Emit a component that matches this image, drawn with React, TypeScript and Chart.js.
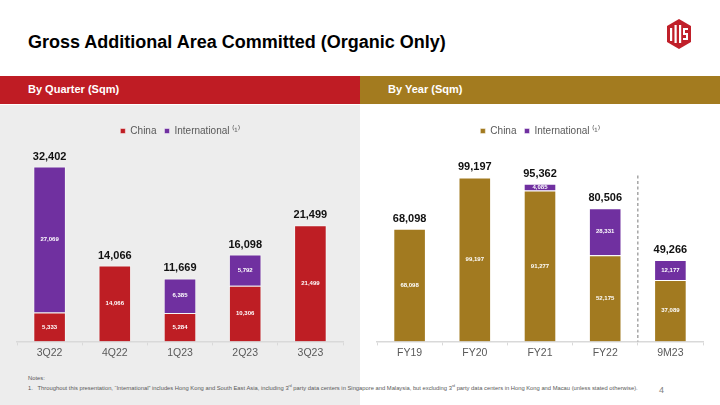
import React, { useEffect, useRef } from "react";
import { Chart, registerables } from "chart.js";

Chart.register(...registerables);

// ---- data ----
const quarterLabels = ["3Q22", "4Q22", "1Q23", "2Q23", "3Q23"];
const quarterChina = [5333, 14066, 5284, 10306, 21499];
const quarterIntl: (number | null)[] = [27069, null, 6385, 5792, null];

const yearLabels = ["FY19", "FY20", "FY21", "FY22", "9M23"];
const yearChina = [68098, 99197, 91277, 52175, 37089];
const yearIntl: (number | null)[] = [null, null, 4085, 28331, 12177];

const legendChina = "China";
const legendIntl = "International \u207D\u00B9\u207E";

const RED = "#BE1E24";
const GOLD = "#A27A20";
const PURPLE = "#7030A0";
const FONT = "'Liberation Sans', Arial, sans-serif";

const fmt = (v: number) => v.toLocaleString("en-US");

const valueLabels = {
  id: "valueLabels",
  afterDatasetsDraw(chart: any) {
    const ctx = chart.ctx;
    const n = chart.data.labels.length;
    ctx.save();
    ctx.textAlign = "center";
    ctx.textBaseline = "middle";
    const tops: number[] = new Array(n).fill(Infinity);
    const xs: number[] = new Array(n).fill(0);
    const totals: number[] = new Array(n).fill(0);
    chart.data.datasets.forEach((ds: any, di: number) => {
      const meta = chart.getDatasetMeta(di);
      meta.data.forEach((bar: any, i: number) => {
        const v = ds.data[i];
        if (v == null || v === 0) return;
        const p = bar.getProps(["x", "y", "base"], true);
        totals[i] += v;
        xs[i] = p.x;
        tops[i] = Math.min(tops[i], p.y);
        ctx.font = `bold 6px ${FONT}`;
        ctx.fillStyle = "#ffffff";
        ctx.fillText(fmt(v), p.x, (p.y + p.base) / 2);
      });
    });
    ctx.font = `bold 11px ${FONT}`;
    ctx.fillStyle = "#111111";
    for (let i = 0; i < n; i++) {
      if (totals[i] > 0) ctx.fillText(fmt(totals[i]), xs[i], tops[i] - 10);
    }
    ctx.restore();
  },
};

const dashedDivider = {
  id: "dashedDivider",
  afterDatasetsDraw(chart: any, _a: any, opts: any) {
    if (!opts || !opts.enabled) return;
    const xs = chart.scales.x;
    const ys = chart.scales.y;
    const x = (xs.getPixelForValue(3) + xs.getPixelForValue(4)) / 2;
    const maxTotal = Math.max(...yearChina.map((c, i) => c + (yearIntl[i] || 0)));
    const top = ys.getPixelForValue(maxTotal) - 2;
    const ctx = chart.ctx;
    ctx.save();
    ctx.strokeStyle = "#A6A6A6";
    ctx.lineWidth = 1.5;
    ctx.setLineDash([3, 2.5]);
    ctx.beginPath();
    ctx.moveTo(x, top);
    ctx.lineTo(x, ys.getPixelForValue(0));
    ctx.stroke();
    ctx.restore();
  },
};

function makeConfig(
  labels: string[],
  china: number[],
  intl: (number | null)[],
  chinaColor: string,
  yMax: number,
  divider: boolean
): any {
  return {
    type: "bar",
    data: {
      labels,
      datasets: [
        {
          label: legendChina,
          data: china,
          backgroundColor: chinaColor,
          borderColor: "rgba(255,255,255,0.45)",
          borderWidth: 1,
          borderSkipped: "bottom",
        },
        {
          label: legendIntl,
          data: intl,
          backgroundColor: PURPLE,
          borderColor: "rgba(255,255,255,0.45)",
          borderWidth: 1,
          borderSkipped: "bottom",
        },
      ],
    },
    options: {
      responsive: false,
      animation: false,
      layout: { padding: { left: 17, right: 17, top: 14, bottom: 6 } },
      datasets: { bar: { categoryPercentage: 1, barPercentage: 0.5 } },
      plugins: {
        tooltip: { enabled: false },
        dashedDivider: { enabled: divider },
        legend: {
          position: "top",
          labels: {
            boxWidth: 5,
            boxHeight: 5,
            padding: 8,
            color: "#595959",
            font: { family: FONT, size: 10 },
          },
        },
      },
      scales: {
        x: {
          stacked: true,
          grid: {
            display: true,
            drawOnChartArea: false,
            drawTicks: true,
            tickLength: 4,
            color: "#D9D9D9",
            offset: true,
          },
          border: { display: true, color: "#D9D9D9", width: 1.5 },
          ticks: {
            color: "#595959",
            padding: 1,
            font: { family: FONT, size: 10.5 },
          },
        },
        y: {
          stacked: true,
          display: false,
          min: 0,
          max: yMax,
        },
      },
    },
    plugins: [valueLabels, dashedDivider],
  };
}

function BarChart(props: {
  labels: string[];
  china: number[];
  intl: (number | null)[];
  chinaColor: string;
  yMax: number;
  divider: boolean;
}) {
  const ref = useRef<HTMLCanvasElement>(null);
  useEffect(() => {
    if (!ref.current) return;
    const chart = new Chart(
      ref.current,
      makeConfig(props.labels, props.china, props.intl, props.chinaColor, props.yMax, props.divider)
    );
    return () => chart.destroy();
  }, []);
  return <canvas ref={ref} width={360} height={262} style={{ width: 360, height: 262, display: "block" }} />;
}

function Logo() {
  return (
    <svg width="24" height="30" viewBox="0 0 24 30" style={{ position: "absolute", left: 667, top: 19 }}>
      <polygon points="12,0 24,7 24,23 12,30 0,23 0,7" fill="#C0202A" />
      <rect x="3" y="9" width="2.2" height="13" fill="#fff" />
      <rect x="7.5" y="6" width="2.2" height="18" fill="#fff" />
      <rect x="12" y="6" width="2.2" height="18" fill="#fff" />
      <path d="M16 9 h5 v2 h-3 v3 h3 v7 h-5 v-2 h3 v-3 h-3 z" fill="#fff" />
    </svg>
  );
}

export default function App() {
  return (
    <div
      style={{
        position: "absolute",
        left: 0,
        top: 0,
        width: 720,
        height: 405,
        overflow: "hidden",
        background: "#ffffff",
        fontFamily: FONT,
      }}
    >
      <div
        style={{
          position: "absolute",
          left: 28,
          top: 32,
          fontSize: 18,
          fontWeight: "bold",
          color: "#000",
          whiteSpace: "nowrap",
        }}
      >
        Gross Additional Area Committed (Organic Only)
      </div>
      <Logo />
      <div style={{ position: "absolute", left: 0, top: 76, width: 360, height: 28, background: "#BF1C24" }} />
      <div style={{ position: "absolute", left: 360, top: 76, width: 360, height: 28, background: "#A37B1F" }} />
      <div
        style={{
          position: "absolute",
          left: 28,
          top: 83,
          fontSize: 11,
          fontWeight: "bold",
          color: "#fff",
          whiteSpace: "nowrap",
        }}
      >
        By Quarter (Sqm)
      </div>
      <div
        style={{
          position: "absolute",
          left: 388,
          top: 83,
          fontSize: 11,
          fontWeight: "bold",
          color: "#fff",
          whiteSpace: "nowrap",
        }}
      >
        By Year (Sqm)
      </div>
      <div style={{ position: "absolute", left: 0, top: 105, width: 360, height: 300, background: "#EDEDED" }} />
      <div style={{ position: "absolute", left: 0, top: 104 }}>
        <BarChart
          labels={quarterLabels}
          china={quarterChina}
          intl={quarterIntl}
          chinaColor={RED}
          yMax={36200}
          divider={false}
        />
      </div>
      <div style={{ position: "absolute", left: 360, top: 104 }}>
        <BarChart
          labels={yearLabels}
          china={yearChina}
          intl={yearIntl}
          chinaColor={GOLD}
          yMax={118200}
          divider={true}
        />
      </div>
      <div
        style={{
          position: "absolute",
          left: 28,
          top: 374,
          fontSize: 5.8,
          color: "#595959",
          lineHeight: "8px",
          whiteSpace: "nowrap",
        }}
      >
        <div>Notes:</div>
        <div>
          1.&nbsp;&nbsp; Throughout this presentation, “International” includes Hong Kong and South East Asia, including 3
          <sup style={{ fontSize: 3.5 }}>rd</sup> party data centers in Singapore and Malaysia, but excluding 3
          <sup style={{ fontSize: 3.5 }}>rd</sup> party data centers in Hong Kong and Macau (unless stated otherwise).
        </div>
      </div>
      <div style={{ position: "absolute", left: 659, top: 385, fontSize: 9, color: "#7F7F7F" }}>4</div>
    </div>
  );
}
